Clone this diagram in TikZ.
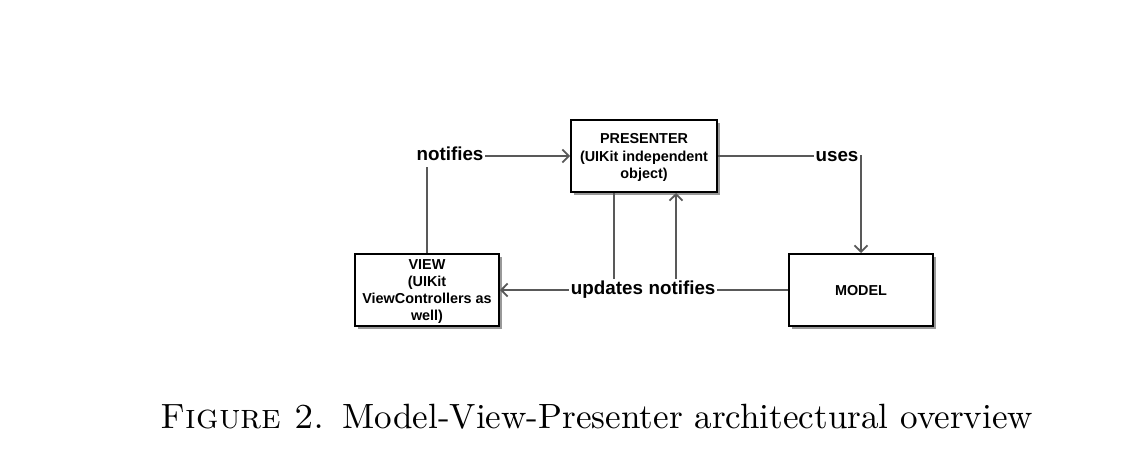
\documentclass[tikz,border=0pt]{standalone}
\usepackage{fontspec}
\newfontfamily\diafont{Liberation Sans}
\usetikzlibrary{arrows.meta,shadows}
\begin{document}
\begin{tikzpicture}[x=0.5pt,y=-0.5pt,
  box/.style={draw=black,line width=1pt,fill=white,minimum width=72pt,minimum height=36pt,
    inner sep=1pt,align=center,text depth=-1.6pt,font=\diafont\bfseries\fontsize{7.2}{8.6}\selectfont,
    drop shadow={shadow xshift=1.5pt,shadow yshift=-1.5pt,fill=black!40,opacity=1}},
  lbl/.style={fill=white,inner sep=1pt,text height=6.8pt,text depth=2pt,font=\diafont\bfseries\fontsize{9.4}{11}\selectfont},
  conn/.style={draw=black!65,line width=0.75pt},
  arr/.style={conn,-{Straight Barb[length=3.2pt,width=6.5pt,line width=0.9pt]}}]
\useasboundingbox (0,0) rectangle (1128,466);
\node[box,minimum width=73pt] (presenter) at (644,156) {PRESENTER\\(UIKit independent\\object)};
\node[box] (view) at (427,290) {VIEW\\(UIKit\\ViewControllers as\\well)};
\node[box] (model) at (861,290) {MODEL};
\draw[arr] (view.north) |- (presenter.west);
\draw[arr] (presenter.east) -| (model.north);
\draw[arr] ([xshift=-15pt]presenter.south) |- (view.east);
\draw[arr] (model.west) -| ([xshift=16pt]presenter.south);
\node[lbl] (notif1) at (450,156) {notifies};
\node[lbl] (uses) at (837,157) {uses};
\node[lbl] (updates) at (607,290) {updates};
\node[lbl] (notif2) at (682,290) {notifies};
\node[inner sep=0pt] (caption) at (597,417) {\scalebox{1.755}{\fontsize{10}{12}\selectfont\textsc{Figure 2.}\enspace Model-View-Presenter architectural overview}};
\end{tikzpicture}
\end{document}
